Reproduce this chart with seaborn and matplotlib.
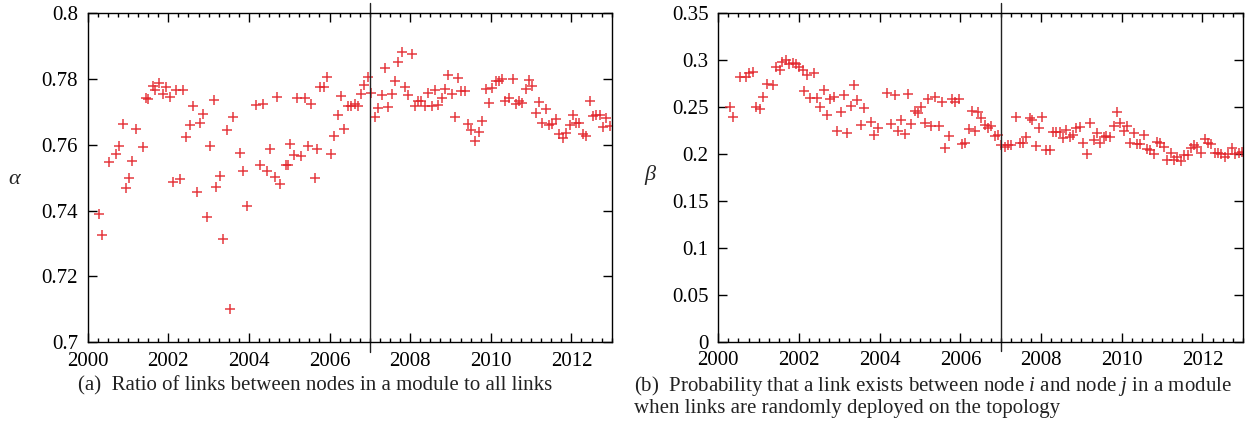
import matplotlib
matplotlib.use("Agg")
import matplotlib.pyplot as plt
import seaborn as sns
import numpy as np
import pandas as pd
from matplotlib.ticker import FixedLocator, FixedFormatter, MultipleLocator

# ---------------- data ----------------
alpha_years = [2000.28, 2000.36, 2000.53, 2000.70, 2000.78, 2000.87, 2000.96, 2001.02, 2001.11, 2001.20,
               2001.38, 2001.44, 2001.50, 2001.61, 2001.67, 2001.77, 2001.86, 2001.94, 2002.04, 2002.12,
               2002.20, 2002.28, 2002.37, 2002.45, 2002.53, 2002.61, 2002.70, 2002.78, 2002.86, 2002.95,
               2003.04, 2003.13, 2003.19, 2003.29, 2003.36, 2003.46, 2003.54, 2003.60, 2003.79, 2003.85,
               2003.96, 2004.18, 2004.28, 2004.36, 2004.45, 2004.53, 2004.64, 2004.70, 2004.78, 2004.91,
               2004.97, 2005.02, 2005.13, 2005.19, 2005.30, 2005.38, 2005.46, 2005.54, 2005.63, 2005.68,
               2005.77, 2005.86, 2005.94, 2006.04, 2006.12, 2006.20, 2006.29, 2006.37, 2006.45, 2006.53,
               2006.62, 2006.70, 2006.78, 2006.86, 2006.95, 2007.04, 2007.13, 2007.21, 2007.29, 2007.38,
               2007.46, 2007.54, 2007.62, 2007.70, 2007.79, 2007.87, 2007.95, 2008.04, 2008.12, 2008.20,
               2008.28, 2008.37, 2008.45, 2008.53, 2008.62, 2008.70, 2008.78, 2008.86, 2008.94, 2009.03,
               2009.11, 2009.19, 2009.27, 2009.36, 2009.44, 2009.52, 2009.60, 2009.71, 2009.79, 2009.88,
               2009.96, 2010.04, 2010.12, 2010.21, 2010.29, 2010.35, 2010.45, 2010.54, 2010.62, 2010.70,
               2010.78, 2010.87, 2010.95, 2011.03, 2011.11, 2011.20, 2011.28, 2011.36, 2011.44, 2011.52,
               2011.62, 2011.69, 2011.79, 2011.87, 2011.96, 2012.04, 2012.12, 2012.20, 2012.28, 2012.37,
               2012.45, 2012.53, 2012.61, 2012.70, 2012.78, 2012.87, 2012.95]
alpha_values = [0.7388, 0.7325, 0.7549, 0.7571, 0.7597, 0.7663, 0.7470, 0.7498, 0.7552, 0.7649,
                0.7593, 0.7743, 0.7738, 0.7779, 0.7767, 0.7789, 0.7756, 0.7775, 0.7746, 0.7487,
                0.7767, 0.7496, 0.7767, 0.7624, 0.7659, 0.7718, 0.7457, 0.7667, 0.7693, 0.7379,
                0.7597, 0.7736, 0.7472, 0.7505, 0.7313, 0.7644, 0.7100, 0.7685, 0.7576, 0.7520,
                0.7413, 0.7721, 0.7538, 0.7724, 0.7521, 0.7587, 0.7503, 0.7744, 0.7482, 0.7538,
                0.7540, 0.7602, 0.7569, 0.7741, 0.7566, 0.7741, 0.7596, 0.7724, 0.7500, 0.7586,
                0.7775, 0.7777, 0.7807, 0.7572, 0.7626, 0.7690, 0.7749, 0.7647, 0.7718, 0.7718,
                0.7724, 0.7718, 0.7756, 0.7782, 0.7807, 0.7758, 0.7683, 0.7711, 0.7751, 0.7834,
                0.7716, 0.7754, 0.7794, 0.7853, 0.7883, 0.7775, 0.7751, 0.7875, 0.7718, 0.7733,
                0.7734, 0.7718, 0.7758, 0.7718, 0.7767, 0.7721, 0.7741, 0.7769, 0.7812, 0.7754,
                0.7685, 0.7804, 0.7764, 0.7764, 0.7662, 0.7645, 0.7612, 0.7640, 0.7673, 0.7769,
                0.7726, 0.7772, 0.7794, 0.7794, 0.7800, 0.7734, 0.7741, 0.7799, 0.7724, 0.7734,
                0.7726, 0.7769, 0.7797, 0.7779, 0.7697, 0.7731, 0.7667, 0.7708, 0.7660, 0.7663,
                0.7677, 0.7633, 0.7620, 0.7637, 0.7660, 0.7690, 0.7665, 0.7667, 0.7632, 0.7626,
                0.7734, 0.7687, 0.7692, 0.7690, 0.7655, 0.7680, 0.7657]

beta_years = [2000.29, 2000.36, 2000.54, 2000.69, 2000.77, 2000.85, 2000.93, 2001.03, 2001.11, 2001.20,
              2001.36, 2001.43, 2001.53, 2001.59, 2001.68, 2001.76, 2001.84, 2001.92, 2002.00, 2002.09,
              2002.13, 2002.19, 2002.27, 2002.37, 2002.44, 2002.53, 2002.62, 2002.70, 2002.78, 2002.86,
              2002.95, 2003.03, 2003.11, 2003.19, 2003.28, 2003.36, 2003.45, 2003.53, 2003.61, 2003.78,
              2003.86, 2003.95, 2004.19, 2004.29, 2004.37, 2004.46, 2004.54, 2004.62, 2004.70, 2004.78,
              2004.87, 2004.95, 2005.03, 2005.12, 2005.20, 2005.28, 2005.38, 2005.46, 2005.54, 2005.63,
              2005.71, 2005.79, 2005.87, 2005.96, 2006.04, 2006.12, 2006.21, 2006.29, 2006.37, 2006.44,
              2006.52, 2006.60, 2006.68, 2006.77, 2006.85, 2006.93, 2007.01, 2007.10, 2007.18, 2007.26,
              2007.37, 2007.47, 2007.55, 2007.63, 2007.72, 2007.78, 2007.88, 2007.96, 2008.03, 2008.13,
              2008.21, 2008.29, 2008.38, 2008.46, 2008.54, 2008.63, 2008.71, 2008.79, 2008.87, 2008.96,
              2009.05, 2009.13, 2009.22, 2009.30, 2009.38, 2009.47, 2009.55, 2009.61, 2009.70, 2009.80,
              2009.88, 2009.96, 2010.05, 2010.13, 2010.21, 2010.30, 2010.38, 2010.46, 2010.54, 2010.63,
              2010.71, 2010.79, 2010.88, 2010.96, 2011.05, 2011.13, 2011.21, 2011.30, 2011.38, 2011.46,
              2011.54, 2011.63, 2011.71, 2011.79, 2011.87, 2011.96, 2012.07, 2012.13, 2012.21, 2012.30,
              2012.38, 2012.46, 2012.57, 2012.64, 2012.73, 2012.81, 2012.90, 2012.98]
beta_values = [0.2504, 0.2391, 0.2824, 0.2824, 0.2867, 0.2877, 0.2504, 0.2477, 0.2611, 0.2746,
               0.2736, 0.2931, 0.2896, 0.2984, 0.3002, 0.2960, 0.2973, 0.2960, 0.2931, 0.2896,
               0.2675, 0.2842, 0.2594, 0.2867, 0.2594, 0.2504, 0.2682, 0.2416, 0.2583, 0.2611,
               0.2248, 0.2451, 0.2629, 0.2220, 0.2512, 0.2736, 0.2576, 0.2309, 0.2487, 0.2344,
               0.2203, 0.2274, 0.2654, 0.2320, 0.2629, 0.2248, 0.2362, 0.2213, 0.2640, 0.2320,
               0.2462, 0.2434, 0.2504, 0.2327, 0.2583, 0.2298, 0.2605, 0.2298, 0.2558, 0.2061,
               0.2192, 0.2583, 0.2558, 0.2583, 0.2107, 0.2121, 0.2263, 0.2462, 0.2248, 0.2451,
               0.2380, 0.2309, 0.2280, 0.2298, 0.2192, 0.2203, 0.2096, 0.2078, 0.2096, 0.2096,
               0.2398, 0.2121, 0.2121, 0.2178, 0.2380, 0.2362, 0.2085, 0.2274, 0.2391, 0.2043,
               0.2043, 0.2238, 0.2238, 0.2238, 0.2167, 0.2256, 0.2185, 0.2203, 0.2274, 0.2291,
               0.2114, 0.2000, 0.2327, 0.2150, 0.2227, 0.2121, 0.2185, 0.2192, 0.2178, 0.2298,
               0.2451, 0.2334, 0.2248, 0.2298, 0.2114, 0.2227, 0.2107, 0.2107, 0.2203, 0.2050,
               0.2043, 0.2000, 0.2131, 0.2121, 0.2078, 0.1936, 0.2014, 0.1936, 0.1971, 0.1929,
               0.1989, 0.1989, 0.2061, 0.2096, 0.2078, 0.2014, 0.2157, 0.2121, 0.2107, 0.2014,
               0.2014, 0.2000, 0.1965, 0.2000, 0.2061, 0.2000, 0.2014, 0.2025]

x_ticks = [2000, 2002, 2004, 2006, 2008, 2010, 2012]
x_tick_labels = ["2000", "2002", "2004", "2006", "2008", "2010", "2012"]
alpha_ticks = [0.70, 0.72, 0.74, 0.76, 0.78, 0.80]
alpha_tick_labels = ["0.7", "0.72", "0.74", "0.76", "0.78", "0.8"]
beta_ticks = [0.0, 0.05, 0.10, 0.15, 0.20, 0.25, 0.30, 0.35]
beta_tick_labels = ["0", "0.05", "0.1", "0.15", "0.2", "0.25", "0.3", "0.35"]
split_year = 2007

caption_a = "(a)  Ratio of links between nodes in a module to all links"
caption_b1 = "(b)  Probability that a link exists between node $i$ and node $j$ in a module"
caption_b2 = "when links are randomly deployed on the topology"

# ---------------- style ----------------
sns.set_style("ticks")
plt.rcParams["font.family"] = ["Liberation Serif", "DejaVu Serif"]
plt.rcParams["mathtext.fontset"] = "custom"
plt.rcParams["mathtext.rm"] = "Liberation Serif"
plt.rcParams["mathtext.it"] = "Liberation Serif:italic"

RED = "#e3252c"
FS = 15

fig = plt.figure(figsize=(12.59, 4.41), dpi=100)
W, H = 1259.0, 441.0
ax1 = fig.add_axes([87.7 / W, 1 - 342.0 / H, 524.0 / W, 328.7 / H])
ax2 = fig.add_axes([718.3 / W, 1 - 341.6 / H, 524.5 / W, 328.3 / H])

df_a = pd.DataFrame({"year": alpha_years, "alpha": alpha_values})
df_b = pd.DataFrame({"year": beta_years, "beta": beta_values})

sns.scatterplot(data=df_a, x="year", y="alpha", ax=ax1, marker="+", s=60,
                color=RED, linewidth=1.1, alpha=0.9, legend=False)
sns.scatterplot(data=df_b, x="year", y="beta", ax=ax2, marker="+", s=60,
                color=RED, linewidth=1.1, alpha=0.9, legend=False)

for ax, yt, ytl, ylim in [(ax1, alpha_ticks, alpha_tick_labels, (0.70, 0.80)),
                          (ax2, beta_ticks, beta_tick_labels, (0.0, 0.35))]:
    ax.set_xlim(2000, 2013)
    ax.set_ylim(*ylim)
    ax.xaxis.set_major_locator(FixedLocator(x_ticks))
    ax.xaxis.set_major_formatter(FixedFormatter(x_tick_labels))
    ax.xaxis.set_minor_locator(MultipleLocator(0.25))
    ax.yaxis.set_major_locator(FixedLocator(yt))
    ax.yaxis.set_major_formatter(FixedFormatter(ytl))
    ax.tick_params(which="both", direction="in", top=True, right=True,
                   width=1.0, colors="black", labelsize=FS)
    ax.tick_params(which="major", length=6.5)
    ax.tick_params(which="minor", length=3.2)
    ax.tick_params(axis="x", which="major", pad=7)
    ax.tick_params(axis="y", which="major", pad=7)
    for sp in ax.spines.values():
        sp.set_visible(True)
        sp.set_linewidth(1.0)
        sp.set_color("black")
    ax.set_xlabel("")
    ax.set_ylabel("")
    ax.axvline(split_year, ymin=-0.03, ymax=1.03, color="#222222", lw=1.0, clip_on=False)

fig.text(15 / W, 1 - 180 / H, r"$\alpha$", fontsize=FS + 1, ha="center", va="center")
fig.text(651 / W, 1 - 175 / H, r"$\beta$", fontsize=FS + 1, ha="center", va="center")

fig.text(315 / W, 1 - 386 / H, caption_a, fontsize=FS, ha="center", va="center", color="#222222")
fig.text(634 / W, 1 - 386 / H, caption_b1, fontsize=FS, ha="left", va="center", color="#222222")
fig.text(634 / W, 1 - 409 / H, caption_b2, fontsize=FS, ha="left", va="center", color="#222222")

fig.savefig("out.png", dpi=100)
